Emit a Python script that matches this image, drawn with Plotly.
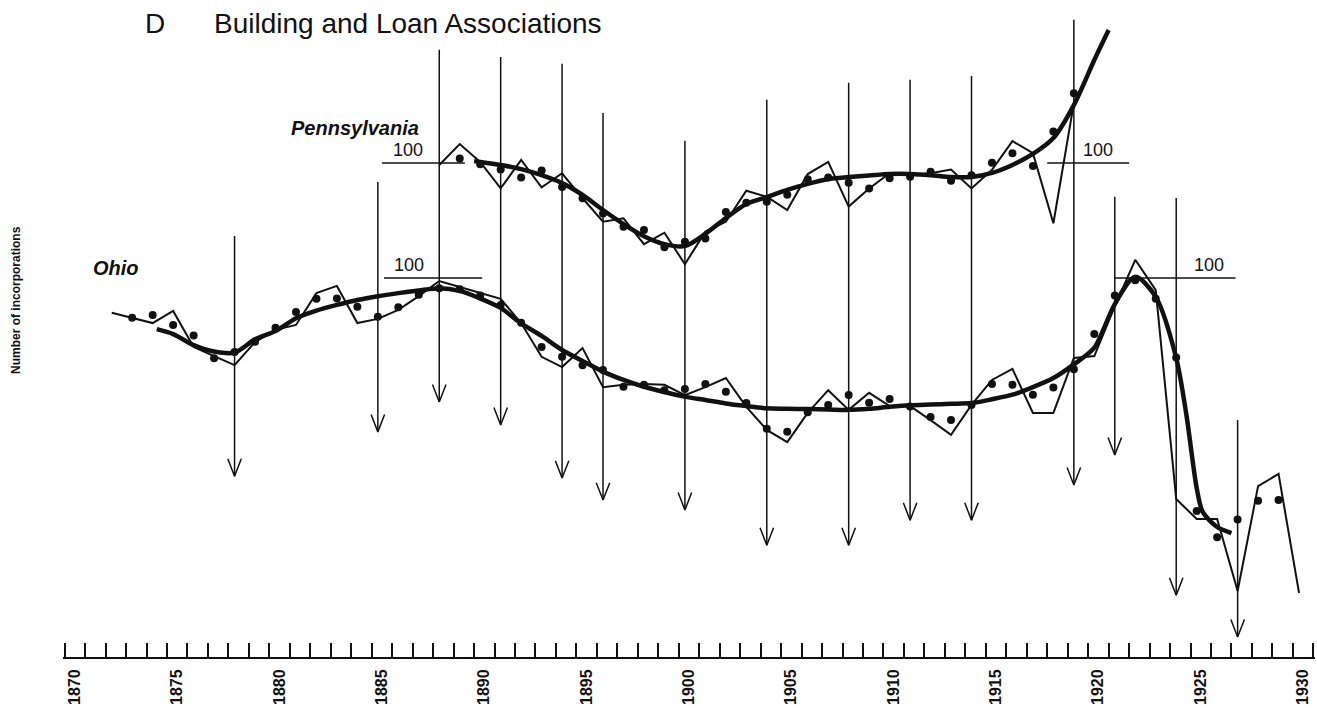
import plotly.graph_objects as go

# ---------------- data (index units; reference line = 100) ----------------
ohio_years = list(range(1872, 1931))
ohio_annual = [90.8, 89.4, 88.1, 91.3, 81.8, 79.4, 77.0, 83.1, 86.3, 87.6,
               96.0, 97.9, 88.1, 89.2, 91.6, 95.2, 99.2, 97.6, 96.0, 94.5,
               88.1, 79.2, 76.5, 81.5, 71.2, 71.8, 72.0, 71.8, 69.1, 71.2,
               73.6, 66.0, 59.9, 56.7, 64.4, 70.4, 65.2, 69.7, 66.2, 66.2,
               62.5, 58.6, 66.5, 73.1, 76.0, 64.4, 64.4, 78.9, 79.4, 92.6,
               104.8, 96.8, 41.7, 36.4, 36.4, 17.4, 45.1, 48.3, 16.9]

ohio_dot_years = list(range(1873, 1930))
ohio_dots = [89.5, 90.2, 87.6, 84.8, 78.8, 80.5, 83.2, 86.9, 91.0, 94.5,
             94.6, 92.4, 89.8, 92.3, 95.6, 97.3, 97.0, 95.4, 92.9, 88.2,
             81.8, 79.2, 77.0, 75.7, 71.3, 71.8, 70.4, 70.7, 72.0, 70.0,
             67.0, 60.2, 59.4, 64.6, 66.5, 69.1, 67.1, 68.1, 66.1, 63.3,
             62.5, 66.5, 72.0, 71.8, 69.2, 71.1, 75.9, 85.2, 95.4, 99.4,
             94.5, 79.0, 38.5, 31.6, 36.3, 41.2, 41.4]

ohio_trend_years = [1874.2] + list(range(1875, 1925)) + [1924.5, 1925, 1925.3, 1926, 1926.7]
ohio_trend = [86.5, 85.2, 82.3, 80.6, 80.3, 83.8, 86.0, 89.4, 91.4, 92.9,
              94.2, 95.2, 96.0, 96.7, 97.3, 96.6, 94.6, 92.1, 88.0, 84.7,
              81.0, 78.1, 75.3, 73.1, 71.3, 69.9, 68.7, 67.8, 66.9, 66.2,
              65.6, 65.5, 65.4, 65.3, 65.2, 65.5, 66.0, 66.4, 66.6, 66.8,
              67.0, 68.0, 69.2, 71.2, 73.6, 77.2, 81.6, 93.1, 100.3, 95.0,
              78.9, 63.8, 44.6, 38.2, 34.3, 32.7]

penn_years = list(range(1888, 1920))
penn_annual = [99.5, 105.0, 100.3, 93.3, 100.8, 93.6, 97.3, 90.7, 84.5, 85.4,
               78.6, 81.6, 73.3, 81.9, 84.5, 92.7, 91.1, 87.6, 97.1, 100.3,
               88.5, 93.3, 97.3, 96.8, 97.3, 98.3, 93.3, 98.2, 105.8, 102.6,
               84.1, 115.8]

penn_dot_years = list(range(1889, 1920))
penn_dots = [101.2, 99.7, 98.3, 96.2, 98.0, 93.7, 90.7, 86.7, 83.2, 82.3,
             77.8, 79.2, 80.1, 87.1, 89.5, 89.8, 91.6, 95.7, 96.2, 94.8,
             93.3, 96.0, 96.4, 97.7, 95.3, 96.8, 100.1, 102.6, 99.2, 108.3,
             118.4]

penn_trend_years = [1889.7] + list(range(1890, 1921)) + [1920.7]
penn_trend = [100.5, 100.3, 99.5, 98.4, 96.8, 94.7, 91.6, 87.6, 83.9, 80.7,
              78.6, 78.1, 81.3, 85.5, 89.2, 91.0, 92.9, 94.5, 95.8, 96.3,
              96.7, 97.1, 97.1, 96.8, 96.3, 96.3, 97.4, 99.5, 102.4, 106.6,
              115.3, 127.2, 135.1]

# turning-point arrows (Ohio index units)
turn_years = [1878, 1885, 1888, 1891, 1894, 1896, 1900, 1904, 1908, 1911, 1914, 1919, 1921, 1924, 1927]
turn_top = [111.1, 125.3, 160.2, 158.3, 156.5, 143.5, 136.2, 147.0, 151.5, 152.3, 153.3, 168.1, 121.4, 121.1, 62.5]
turn_bottom = [47.7, 59.4, 67.3, 61.2, 47.2, 41.4, 38.8, 29.5, 29.5, 36.1, 36.1, 45.4, 53.3, 16.3, 5.3]

# "100" reference segments
ohio_ref_start = [1885.3, 1921.0]
ohio_ref_end = [1890.1, 1926.9]
ohio_ref_label_x = [1886.5, 1925.6]
penn_ref_start = [1885.2, 1917.7]
penn_ref_end = [1889.25, 1921.7]
penn_ref_label_x = [1886.45, 1920.2]
ref_level = 100

axis_years = list(range(1870, 1932))
label_years = list(range(1870, 1931, 5))

# ---------------- styling ----------------
INK = "#111111"
W, H = 1317, 714
ML, MR, MT, MB = 63, 2, 10, 57
X_RANGE = [1869.62, 1930.78]
Y_RANGE = [0, 170.7]
Y2_RANGE = [-30.4, 140.4]
PW, PH = W - ML - MR, H - MT - MB
FONT = "Liberation Sans"


def px_to_paper(px, py):
    return (px - ML) / PW, (H - MB - py) / PH


fig = go.Figure()

# arrows
ax_x, ax_y = [], []
hw, hh = 0.33, 4.6
for yr, top, bot in zip(turn_years, turn_top, turn_bottom):
    ax_x += [yr, yr, None, yr - hw, yr, yr + hw, None]
    ax_y += [top, bot, None, bot + hh, bot, bot + hh, None]
fig.add_trace(go.Scatter(x=ax_x, y=ax_y, mode="lines", line=dict(color=INK, width=1.5),
                         hoverinfo="skip", showlegend=False))

# reference lines
for x0, x1 in zip(ohio_ref_start, ohio_ref_end):
    fig.add_trace(go.Scatter(x=[x0, x1], y=[ref_level, ref_level], mode="lines",
                             line=dict(color=INK, width=1.4), hoverinfo="skip", showlegend=False))
for x0, x1 in zip(penn_ref_start, penn_ref_end):
    fig.add_trace(go.Scatter(x=[x0, x1], y=[ref_level, ref_level], yaxis="y2", mode="lines",
                             line=dict(color=INK, width=1.4), hoverinfo="skip", showlegend=False))

# Ohio
fig.add_trace(go.Scatter(x=ohio_years, y=ohio_annual, mode="lines",
                         line=dict(color=INK, width=2), hoverinfo="skip", showlegend=False))
fig.add_trace(go.Scatter(x=ohio_trend_years, y=ohio_trend, mode="lines",
                         line=dict(color=INK, width=4.5, shape="spline", smoothing=0.8),
                         hoverinfo="skip", showlegend=False))
fig.add_trace(go.Scatter(x=ohio_dot_years, y=ohio_dots, mode="markers",
                         marker=dict(color=INK, size=8), hoverinfo="skip", showlegend=False))

# Pennsylvania
fig.add_trace(go.Scatter(x=penn_years, y=penn_annual, yaxis="y2", mode="lines",
                         line=dict(color=INK, width=2), hoverinfo="skip", showlegend=False))
fig.add_trace(go.Scatter(x=penn_trend_years, y=penn_trend, yaxis="y2", mode="lines",
                         line=dict(color=INK, width=4.5, shape="spline", smoothing=0.8),
                         hoverinfo="skip", showlegend=False))
fig.add_trace(go.Scatter(x=penn_dot_years, y=penn_dots, yaxis="y2", mode="markers",
                         marker=dict(color=INK, size=8), hoverinfo="skip", showlegend=False))

annotations = []
for lx in ohio_ref_label_x:
    annotations.append(dict(x=lx, y=ref_level, xref="x", yref="y", text="100", showarrow=False,
                            yanchor="bottom", yshift=1, font=dict(family=FONT, size=18, color=INK)))
for lx in penn_ref_label_x:
    annotations.append(dict(x=lx, y=ref_level, xref="x", yref="y2", text="100", showarrow=False,
                            yanchor="bottom", yshift=1, font=dict(family=FONT, size=18, color=INK)))

bx, by = px_to_paper(289, 128)
annotations.append(dict(x=bx, y=by, xref="paper", yref="paper", text="<b><i>Pennsylvania</i></b>",
                        showarrow=False, xanchor="left", yanchor="middle",
                        font=dict(family=FONT, size=20, color=INK)))
bx, by = px_to_paper(91, 268)
annotations.append(dict(x=bx, y=by, xref="paper", yref="paper", text="<b><i>Ohio</i></b>",
                        showarrow=False, xanchor="left", yanchor="middle",
                        font=dict(family=FONT, size=20, color=INK)))
bx, by = px_to_paper(155, 23)
annotations.append(dict(x=bx, y=by, xref="paper", yref="paper", text="D",
                        showarrow=False, xanchor="center", yanchor="middle",
                        font=dict(family=FONT, size=28, color=INK)))
bx, by = px_to_paper(212, 23)
annotations.append(dict(x=bx, y=by, xref="paper", yref="paper", text="Building and Loan Associations",
                        showarrow=False, xanchor="left", yanchor="middle",
                        font=dict(family=FONT, size=28, color=INK)))
bx, by = px_to_paper(16, 300)
annotations.append(dict(x=bx, y=by, xref="paper", yref="paper", text="<b>Number of incorporations</b>",
                        showarrow=False, textangle=-90, xanchor="center", yanchor="middle",
                        font=dict(family=FONT, size=12, color=INK)))

tick_vals = [y - 0.3 for y in axis_years]
tick_text = [str(y) if y in label_years else "" for y in axis_years]

fig.update_layout(
    width=W, height=H,
    margin=dict(l=ML, r=MR, t=MT, b=MB, autoexpand=False),
    paper_bgcolor="white", plot_bgcolor="white",
    showlegend=False,
    annotations=annotations,
    xaxis=dict(range=X_RANGE, showgrid=False, zeroline=False, showline=True, automargin=False,
               linecolor=INK, linewidth=2, ticks="inside", ticklen=14, tickwidth=1.6,
               tickcolor=INK, tickvals=tick_vals, ticktext=tick_text, tickangle=-90,
               ticklabelshift=10, ticklabelstandoff=4,
               tickfont=dict(family=FONT, size=16, color=INK, weight="bold")),
    yaxis=dict(range=Y_RANGE, visible=False, showgrid=False, zeroline=False, automargin=False),
    yaxis2=dict(range=Y2_RANGE, overlaying="y", visible=False, showgrid=False, zeroline=False,
                automargin=False),
)

fig.write_html("out.html", config={"displayModeBar": False},
               post_script="document.body.style.margin='0px';document.body.style.overflow='hidden';")
